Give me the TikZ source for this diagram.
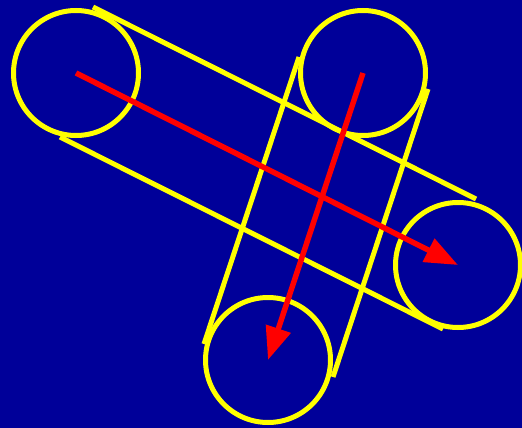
\documentclass[tikz,border=0pt]{standalone}
\usetikzlibrary{arrows.meta}
\definecolor{bg}{RGB}{0,0,153}
\definecolor{ylw}{RGB}{255,255,0}
\definecolor{rd}{RGB}{255,0,0}
\begin{document}
\begin{tikzpicture}[x=1pt,y=-1pt,
  wheel/.style={circle,draw=ylw,line width=5pt,minimum size=125pt,inner sep=0pt},
  belt/.style={draw=ylw,line width=5pt},
  motion/.style={draw=rd,line width=5.5pt,-{Triangle[length=33pt,width=25pt]}}]
\fill[bg] (0,0) rectangle (522,428);
\useasboundingbox (0,0) rectangle (522,428);
\node[wheel] (w1) at (76,73) {};
\node[wheel] (w2) at (363,73) {};
\node[wheel] (w3) at (458,265) {};
\node[wheel] (w4) at (268,360) {};
\coordinate (a1) at (93,7);
\coordinate (a2) at (476,199);
\coordinate (b1) at (60,137);
\coordinate (b2) at (443,329);
\coordinate (c1) at (299,57);
\coordinate (c2) at (204,344);
\coordinate (d1) at (428,89);
\coordinate (d2) at (333,377);
\draw[belt] (a1) -- (a2);
\draw[belt] (b1) -- (b2);
\draw[belt] (c1) -- (c2);
\draw[belt] (d1) -- (d2);
\draw[motion] (w1.center) -- (w3.center);
\draw[motion] (w2.center) -- (w4.center);
\end{tikzpicture}
\end{document}
